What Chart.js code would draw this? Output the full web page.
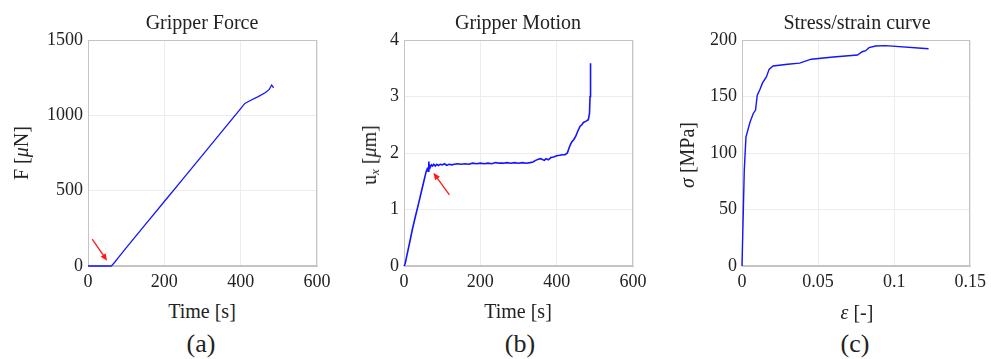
<!DOCTYPE html>
<html>
<head>
<meta charset="utf-8">
<script src="https://cdn.jsdelivr.net/npm/chart.js@4"></script>
<style>
  html, body { margin: 0; padding: 0; background: #fff; }
  body { width: 991px; height: 359px; position: relative; overflow: hidden;
         font-family: "Liberation Serif", "Times New Roman", serif; color: #222; }
  canvas { position: absolute; top: 0; }
  .t { position: absolute; transform: translate(-50%, -50%); white-space: nowrap; line-height: 1; }
  .ttl { font-size: 20px; }
  .ax { font-size: 20px; }
  .cap { font-size: 26px; }
  .rot { transform: translate(-50%, -50%) rotate(-90deg); }
  sub { font-size: 13px; vertical-align: -3px; line-height: 0; }
</style>
</head>
<body>
<canvas id="chartA" width="345" height="300" style="left:0px"></canvas>
<canvas id="chartB" width="345" height="300" style="left:330px"></canvas>
<canvas id="chartC" width="331" height="300" style="left:660px"></canvas>

<div class="t ttl" style="left:202px;top:22px">Gripper Force</div>
<div class="t ttl" style="left:518px;top:22px">Gripper Motion</div>
<div class="t ttl" style="left:857px;top:22px">Stress/strain curve</div>

<div class="t ax rot" style="left:21px;top:153px">F [<i>μ</i>N]</div>
<div class="t ax rot" style="left:369px;top:155px">u<sub><i>x</i></sub> [<i>μ</i>m]</div>
<div class="t ax rot" style="left:687px;top:155px"><i>σ</i> [MPa]</div>

<div class="t ax" style="left:202px;top:311px">Time [s]</div>
<div class="t ax" style="left:518px;top:311px">Time [s]</div>
<div class="t ax" style="left:857px;top:312px"><i>ε</i> [-]</div>

<div class="t cap" style="left:201px;top:344px">(a)</div>
<div class="t cap" style="left:520px;top:344px">(b)</div>
<div class="t cap" style="left:855px;top:344px">(c)</div>

<script>
// ---- data ----

const TIME_TICKS = [0, 200, 400, 600];
const FORCE_TICKS = [0, 500, 1000, 1500];
const MOTION_TICKS = [0, 1, 2, 3, 4];
const STRAIN_TICKS = [0, 0.05, 0.1, 0.15];
const STRESS_TICKS = [0, 50, 100, 150, 200];

// (a) gripper force [uN] vs time [s]
const FORCE_T = [0, 10, 20, 30, 40, 50, 60, 62, 70, 80, 100, 150, 200, 250, 300, 350, 400, 411, 424, 446, 464, 475, 481, 484, 486];
const FORCE_F = [0, 0, 0, 0, 0, 0, 0, 2, 25, 57, 120, 275, 428, 582, 736, 890, 1045, 1079, 1097, 1124, 1150, 1172, 1201, 1192, 1182];

// (b) gripper motion [um] vs time [s]
const MOTION_T = [0, 3, 8, 15, 22, 30, 38, 45, 52, 58, 61, 63, 65, 66, 67, 69, 72, 75, 78, 82, 86, 90, 95, 100, 106, 112, 118, 125,
  132, 140, 150, 160, 170, 180, 190, 200, 210, 220, 230, 240, 250, 260, 270, 280, 290, 300, 310, 320, 330, 338, 345, 352, 358,
  364, 368, 372, 378, 385, 392, 400, 408, 415, 422, 428, 432, 436, 440, 445, 450, 455, 461, 466, 470, 476, 483, 486, 487.5, 488.5, 489];
const MOTION_U = [0, 0.04, 0.2, 0.42, 0.65, 0.88, 1.1, 1.3, 1.5, 1.67, 1.72, 1.68, 1.85, 1.72, 1.78, 1.75, 1.79, 1.77, 1.8, 1.77, 1.8, 1.78, 1.8, 1.79, 1.81, 1.78,
  1.8, 1.79, 1.8, 1.81, 1.8, 1.81, 1.8, 1.82, 1.81, 1.82, 1.81, 1.82, 1.81, 1.83, 1.82, 1.82, 1.83, 1.82, 1.83, 1.82, 1.83, 1.82, 1.83, 1.84,
  1.87, 1.89, 1.9, 1.88, 1.87, 1.9, 1.88, 1.92, 1.93, 1.95, 1.96, 1.97, 1.97, 2.0, 2.08, 2.15, 2.2, 2.24, 2.3, 2.38, 2.47, 2.5, 2.54, 2.56,
  2.59, 2.7, 3.0, 3.3, 3.59];

// (c) stress [MPa] vs strain [-]
const STRAIN = [0, 0.0015, 0.0026, 0.0052, 0.0074, 0.0089, 0.01, 0.0117, 0.0135, 0.0161, 0.0178, 0.0204, 0.03, 0.0378, 0.0455,
  0.06, 0.0759, 0.079, 0.0813, 0.0835, 0.0878, 0.0943, 0.1226];
const STRESS = [0, 85, 114, 127, 135, 138, 151, 156, 162, 167.5, 174, 177, 178.5, 179.5, 183, 185, 186.7, 189.6, 190.5, 193.2, 194.7, 195, 192.3];

// red arrows, [x, y] in data units: tail then head
const ARROW_A = [[11, 179], [50, 35]];
const ARROW_B = [[119, 1.26], [77, 1.65]];

// ---- drawing ----

const FONT = { family: '"Liberation Serif", "Times New Roman", serif', size: 18 };
const LINE_BLUE = '#1414ff';

const boxPlugin = {
  id: 'box',
  beforeDatasetsDraw(chart) {
    const { ctx, chartArea: a } = chart;
    ctx.save();
    ctx.strokeStyle = '#c4c4c4';
    ctx.lineWidth = 1;
    ctx.strokeRect(Math.round(a.left) + 0.5, Math.round(a.top) + 0.5,
      Math.round(a.right - a.left) - 1, Math.round(a.bottom - a.top) - 1);
    ctx.restore();
  }
};

const arrowPlugin = {
  id: 'arrow',
  afterDatasetsDraw(chart, args, opts) {
    if (!opts.points) return;
    const { ctx } = chart;
    const xs = chart.scales.x, ys = chart.scales.y;
    const [from, to] = opts.points;
    const x0 = xs.getPixelForValue(from[0]), y0 = ys.getPixelForValue(from[1]);
    const x1 = xs.getPixelForValue(to[0]), y1 = ys.getPixelForValue(to[1]);
    const ang = Math.atan2(y1 - y0, x1 - x0);
    const len = 7, half = 3;
    ctx.save();
    ctx.strokeStyle = '#ff1a1a';
    ctx.fillStyle = '#ff1a1a';
    ctx.lineWidth = 1.3;
    ctx.beginPath();
    ctx.moveTo(x0, y0);
    ctx.lineTo(x1 - Math.cos(ang) * len * 0.8, y1 - Math.sin(ang) * len * 0.8);
    ctx.stroke();
    ctx.beginPath();
    ctx.moveTo(x1, y1);
    ctx.lineTo(x1 - Math.cos(ang) * len - Math.sin(ang) * half, y1 - Math.sin(ang) * len + Math.cos(ang) * half);
    ctx.lineTo(x1 - Math.cos(ang) * len + Math.sin(ang) * half, y1 - Math.sin(ang) * len - Math.cos(ang) * half);
    ctx.closePath();
    ctx.fill();
    ctx.restore();
  }
};

function axis(ticks, extra) {
  return Object.assign({
    type: 'linear',
    min: ticks[0],
    max: ticks[ticks.length - 1],
    afterBuildTicks: s => { s.ticks = ticks.map(v => ({ value: v })); },
    grid: { color: '#ececec', lineWidth: 1, drawTicks: false },
    border: { display: true, color: '#c4c4c4', width: 1 },
    ticks: { font: FONT, color: '#222', padding: 5, maxRotation: 0, autoSkip: false, callback: v => String(v) }
  }, extra);
}

function makePanel(id, xs, ys, xTicks, yTicks, yWidth, rightPad, lineWidth, arrow) {
  const canvas = document.getElementById(id);
  const xHeight = canvas.height - 266;
  return new Chart(canvas, {
    type: 'line',
    data: {
      datasets: [{
        data: xs.map((x, i) => ({ x, y: ys[i] })),
        borderColor: LINE_BLUE,
        borderWidth: lineWidth,
        pointRadius: 0,
        tension: 0,
        fill: false,
        clip: false
      }]
    },
    options: {
      responsive: false,
      animation: false,
      layout: { padding: { left: 0, right: rightPad, top: 40, bottom: 0 } },
      plugins: {
        legend: { display: false },
        tooltip: { enabled: false },
        arrow: { points: arrow }
      },
      scales: {
        x: axis(xTicks, { afterFit: s => { s.height = xHeight; } }),
        y: axis(yTicks, { afterFit: s => { s.width = yWidth; } })
      }
    },
    plugins: [boxPlugin, arrowPlugin]
  });
}

makePanel('chartA', FORCE_T, FORCE_F, TIME_TICKS, FORCE_TICKS, 88, 345 - 317, 1.3, ARROW_A);
makePanel('chartB', MOTION_T, MOTION_U, TIME_TICKS, MOTION_TICKS, 74, 345 - 303, 1.6, ARROW_B);
makePanel('chartC', STRAIN, STRESS, STRAIN_TICKS, STRESS_TICKS, 82, 331 - 312, 1.4, null);
</script>
</body>
</html>
